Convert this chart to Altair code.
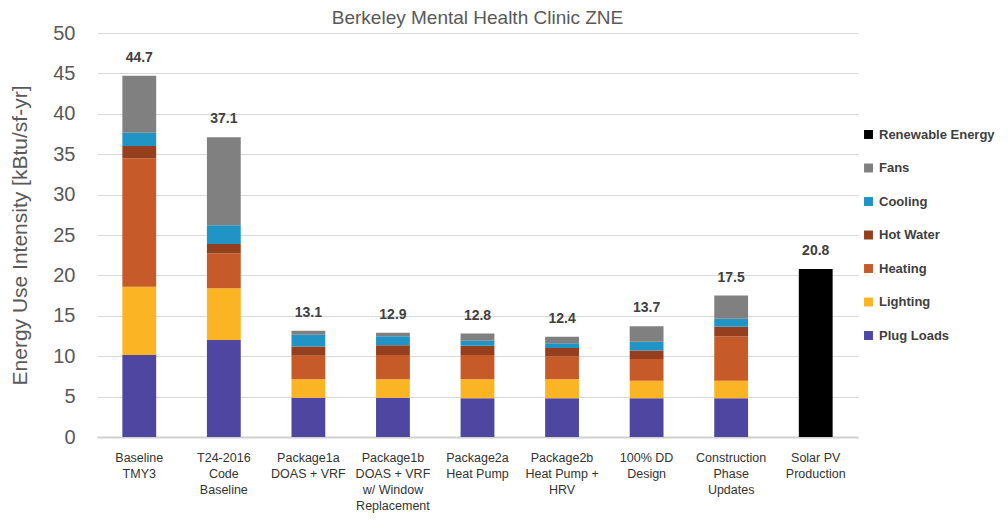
import altair as alt
import pandas as pd

categories = [
    "Baseline\nTMY3",
    "T24-2016\nCode\nBaseline",
    "Package1a\nDOAS + VRF",
    "Package1b\nDOAS + VRF\nw/ Window\nReplacement",
    "Package2a\nHeat Pump",
    "Package2b\nHeat Pump +\nHRV",
    "100% DD\nDesign",
    "Construction\nPhase\nUpdates",
    "Solar PV\nProduction",
]

plug_loads = [10.15, 12.0, 4.86, 4.86, 4.8, 4.8, 4.8, 4.8, 0]
lighting = [8.45, 6.4, 2.28, 2.3, 2.35, 2.35, 2.15, 2.15, 0]
heating = [15.9, 4.3, 2.92, 3.0, 3.0, 2.8, 2.7, 5.5, 0]
hot_water = [1.5, 1.2, 1.14, 1.2, 1.15, 1.05, 1.05, 1.2, 0]
cooling = [1.65, 2.3, 1.44, 1.1, 0.6, 0.6, 1.1, 1.0, 0]
fans = [7.05, 10.9, 0.5, 0.44, 0.9, 0.8, 1.9, 2.85, 0]
renewable = [0, 0, 0, 0, 0, 0, 0, 0, 20.8]
totals = [44.7, 37.1, 13.1, 12.9, 12.8, 12.4, 13.7, 17.5, 20.8]

series_names = ["Plug Loads", "Lighting", "Heating", "Hot Water", "Cooling", "Fans", "Renewable Energy"]
series_values = [plug_loads, lighting, heating, hot_water, cooling, fans, renewable]
legend_order = ["Renewable Energy", "Fans", "Cooling", "Hot Water", "Heating", "Lighting", "Plug Loads"]
legend_colors = ["#000000", "#808080", "#2194C6", "#963F1E", "#C65A28", "#FBB424", "#4E46A0"]

rows = []
for si, (name, vals) in enumerate(zip(series_names, series_values)):
    for cat, v in zip(categories, vals):
        if v > 0:
            rows.append({"Scenario": cat, "Enduse": name, "EUI": v, "order": si})
df = pd.DataFrame(rows)
tot_df = pd.DataFrame({"Scenario": categories, "Total": totals,
                       "Label": [f"{t:.1f}" for t in totals]})

FONT = "Liberation Sans, Arial"

x_enc = alt.X("Scenario:N", sort=categories, title=None,
              scale=alt.Scale(paddingInner=0.6, paddingOuter=0.3),
              axis=alt.Axis(labelExpr="split(datum.label, '\\n')", labelAngle=0,
                            labelFontSize=12.5, labelColor="#333333", labelFont=FONT,
                            labelLineHeight=16, labelPadding=14, ticks=False, grid=False,
                            domainColor="#D0D0D0", domainWidth=2, labelBaseline="top"))

bars = alt.Chart(df).mark_bar().encode(
    x=x_enc,
    y=alt.Y("EUI:Q", stack="zero", title="Energy Use Intensity [kBtu/sf-yr]",
            scale=alt.Scale(domain=[0, 50]),
            axis=alt.Axis(values=list(range(0, 55, 5)), labelFontSize=20, labelColor="#595959",
                          labelFont=FONT, titleFont=FONT, titleFontSize=21,
                          titleFontWeight="normal", titleColor="#595959", titlePadding=22,
                          grid=True, gridColor="#D9D9D9", ticks=False, domain=False,
                          labelPadding=22)),
    color=alt.Color("Enduse:N", scale=alt.Scale(domain=legend_order, range=legend_colors),
                    legend=alt.Legend(title=None, orient="none", legendX=765, legendY=95,
                                      symbolType="square", symbolSize=80, symbolStrokeWidth=0,
                                      labelFontSize=13, labelFontWeight="bold", labelColor="#404040",
                                      labelFont=FONT, rowPadding=19.5, labelOffset=4,
                                      labelLimit=200)),
    order=alt.Order("order:Q", sort="ascending"),
)

labels = alt.Chart(tot_df).mark_text(baseline="bottom", dy=-11, fontSize=14, fontWeight="bold",
                                     color="#404040", font=FONT).encode(
    x=alt.X("Scenario:N", sort=categories),
    y=alt.Y("Total:Q"),
    text="Label:N",
)

chart = (bars + labels).properties(
    width=761, height=404,
    title=alt.Title("Berkeley Mental Health Clinic ZNE", fontSize=19, font=FONT,
                    fontWeight="normal", color="#595959", offset=0, dy=5),
    autosize=alt.AutoSizeParams(type="none"),
    padding={"left": 89, "top": 25, "right": 142, "bottom": 76},
).configure(font=FONT).configure_view(stroke=None, strokeWidth=0)

chart.save("out.html", embed_options={"renderer": "svg", "actions": False})
